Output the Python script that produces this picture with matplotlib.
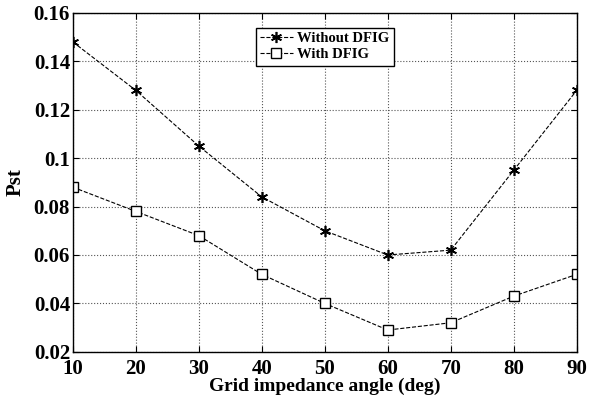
import numpy as np
import matplotlib.pyplot as plt

# Pst vs grid impedance angle
angle = [10, 20, 30, 40, 50, 60, 70, 80, 90]
pst_without = [0.148, 0.128, 0.105, 0.084, 0.070, 0.060, 0.062, 0.095, 0.128]
pst_with = [0.088, 0.078, 0.068, 0.052, 0.040, 0.029, 0.032, 0.043, 0.052]

plt.rcParams['font.family'] = 'Liberation Serif'
plt.rcParams['font.weight'] = 'bold'

fig = plt.figure(figsize=(6.02, 4.03), dpi=100)
ax = fig.add_axes([0.121, 0.127, 0.837, 0.841])

ax.plot(angle, pst_without, '--', color='black', lw=0.8, marker=(6, 2, 0),
        ms=8, mew=1.2, label='Without DFIG')
ax.plot(angle, pst_with, '--', color='black', lw=0.8, marker='s',
        ms=7, mfc='white', mew=1.0, label='With DFIG')

ax.set_xlim(10, 90)
ax.set_ylim(0.02, 0.16)
ax.set_xticks(np.arange(10, 91, 10))
ax.set_yticks([0.02, 0.04, 0.06, 0.08, 0.1, 0.12, 0.14, 0.16])
ax.set_yticklabels(['0.02', '0.04', '0.06', '0.08', '0.1', '0.12', '0.14', '0.16'])
ax.tick_params(direction='in', labelsize=15, length=4, top=True, right=True)
ax.tick_params(axis='x', pad=5.5)
ax.tick_params(axis='y', pad=2)
ax.grid(True, linestyle=':', color='#555555', lw=0.8)
for s in ax.spines.values():
    s.set_linewidth(1.0)

ax.set_xlabel('Grid impedance angle (deg)', fontsize=14, fontweight='bold', labelpad=-1)
ax.set_ylabel('Pst', fontsize=15, fontweight='bold', labelpad=6)

leg = ax.legend(loc='upper center', bbox_to_anchor=(0.5, 0.978), fontsize=10.5,
                fancybox=False, edgecolor='black', framealpha=1, handlelength=2.2,
                borderpad=0.3, labelspacing=0.2, handletextpad=0.3)
leg.get_frame().set_linewidth(1.0)

plt.savefig('out.png', dpi=100)
